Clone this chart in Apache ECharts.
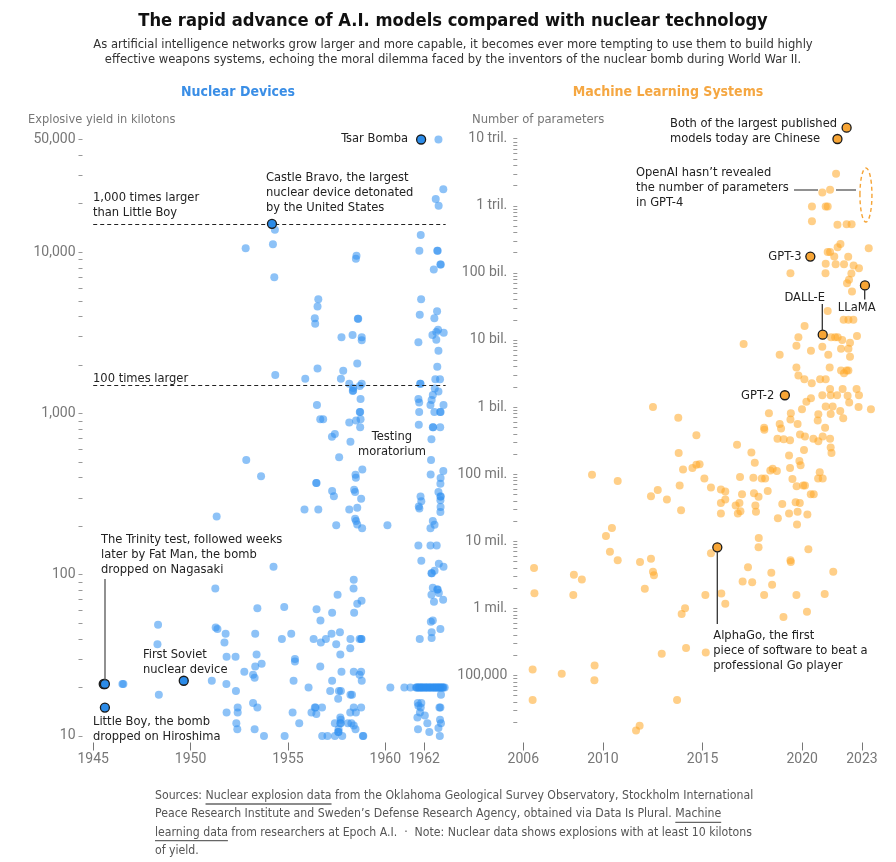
<!DOCTYPE html>
<html>
<head>
<meta charset="utf-8">
<title>A.I. models vs nuclear technology</title>
<script src="https://cdn.jsdelivr.net/npm/echarts@6/dist/echarts.min.js"></script>
<style>
  html, body { margin: 0; padding: 0; background: #fff; }
  #chart { width: 896px; height: 862px; }
</style>
</head>
<body>
<div id="chart"></div>
<script>
// ---- data: nuclear explosions [year, kilotons] ----
const nuclearTests = [
  [1962.73, 50000],
  [1962.98, 24600], [1962.59, 21400], [1962.74, 19400],
  [1954.33, 13800], [1961.82, 12800], [1952.83, 10600], [1954.23, 11200], [1961.75, 10200], [1962.67, 10200], [1962.69, 10200],
  [1958.52, 9500], [1958.49, 9100], [1962.83, 8400], [1962.85, 8400], [1962.49, 7800], [1954.30, 7000],
  [1956.56, 5100], [1956.52, 4600], [1961.84, 5100], [1962.66, 4300], [1961.77, 4100], [1962.52, 3900], [1956.38, 3900], [1956.40, 3600], [1958.59, 3870], [1958.61, 3870],
  [1962.71, 3300], [1962.62, 3200], [1963.0, 3170], [1962.42, 3070], [1957.75, 2970], [1958.32, 3070], [1958.79, 2970], [1958.79, 2840], [1962.62, 2870], [1961.70, 2760], [1962.73, 2450],
  [1958.56, 2040], [1956.52, 1900], [1957.84, 1840], [1962.67, 1950], [1954.35, 1730], [1955.89, 1640], [1957.72, 1640], [1958.15, 1530], [1958.35, 1440], [1958.33, 1380], [1958.35, 1390],
  [1958.79, 1530], [1958.69, 1480], [1961.79, 1530], [1961.81, 1530], [1962.57, 1630], [1962.81, 1630], [1962.54, 1430], [1962.73, 1370], [1962.44, 1300], [1962.38, 1210],
  [1958.73, 1230], [1961.70, 1230], [1961.74, 1170], [1956.49, 1130], [1962.32, 1130], [1962.99, 1130], [1958.69, 1020], [1958.71, 1020], [1961.74, 1020], [1962.52, 1020], [1962.82, 1020], [1962.84, 1020],
  [1956.66, 920], [1956.81, 920], [1958.15, 880], [1958.50, 905], [1958.73, 920], [1958.71, 820], [1961.72, 850], [1962.44, 820], [1962.46, 820], [1962.82, 820], [1957.41, 745], [1957.26, 718],
  [1958.21, 668], [1962.37, 692], [1957.63, 535], [1962.35, 514], [1952.86, 514], [1953.62, 408], [1958.47, 417], [1958.49, 400], [1958.82, 450], [1962.33, 419], [1962.98, 439], [1962.84, 398],
  [1962.83, 367], [1956.45, 371], [1956.47, 371], [1957.27, 330], [1957.36, 307], [1958.40, 337], [1958.45, 326], [1958.76, 296], [1961.81, 306], [1961.85, 286], [1961.72, 265], [1961.75, 257],
  [1962.73, 326], [1962.83, 306], [1962.85, 306], [1962.83, 290], [1962.84, 263], [1962.83, 245], [1955.85, 254], [1956.56, 254], [1958.15, 254], [1958.56, 260], [1958.45, 222], [1958.50, 215],
  [1958.56, 205], [1958.81, 194], [1957.48, 203], [1960.11, 203], [1951.34, 230], [1962.44, 215], [1962.53, 204], [1962.32, 194], [1961.70, 152], [1962.32, 152], [1962.64, 152], [1961.85, 122],
  [1962.37, 102], [1962.39, 102], [1962.75, 117], [1962.99, 112], [1962.53, 106], [1954.26, 112],
  [1958.38, 93], [1958.37, 82], [1951.27, 82], [1962.44, 83], [1962.67, 81], [1962.69, 81], [1962.75, 77], [1962.37, 75], [1962.50, 68], [1962.97, 70], [1957.55, 75], [1958.78, 69], [1958.56, 66],
  [1958.40, 58], [1956.47, 61], [1957.27, 58], [1956.67, 52], [1953.43, 62], [1954.81, 63], [1962.34, 51], [1962.44, 52], [1962.83, 46], [1962.38, 44], [1962.38, 40.5], [1961.77, 40],
  [1948.33, 49], [1951.29, 47], [1951.38, 46], [1951.80, 43], [1951.74, 38], [1948.30, 37], [1953.32, 43], [1954.69, 40], [1955.17, 43], [1956.32, 40], [1956.69, 38], [1956.95, 40], [1957.24, 43],
  [1957.48, 37], [1957.67, 44], [1958.21, 40], [1958.20, 35], [1958.76, 40], [1958.78, 40], [1958.68, 40], [1957.69, 32], [1951.85, 31], [1952.31, 31], [1953.39, 32], [1953.32, 27], [1953.65, 28],
  [1952.76, 25], [1953.21, 24], [1953.29, 23], [1955.36, 30], [1955.36, 29], [1956.66, 27], [1957.75, 25], [1958.38, 25], [1958.68, 24], [1958.76, 25], [1958.79, 22], [1951.09, 22], [1951.84, 21],
  [1955.29, 22], [1957.27, 22], [1952.33, 19], [1956.06, 20], [1957.17, 19], [1957.72, 19], [1957.62, 19], [1957.58, 17], [1958.21, 18], [1958.29, 18], [1960.26, 20], [1960.98, 20], [1961.29, 20],
  [1961.58, 20], [1961.65, 20], [1961.72, 20], [1961.79, 20], [1961.86, 20], [1961.93, 20], [1962.0, 20], [1962.07, 20], [1962.14, 20], [1962.21, 20], [1962.28, 20], [1962.35, 20],
  [1962.42, 20], [1962.49, 20], [1962.56, 20], [1962.63, 20], [1962.70, 20], [1962.77, 20], [1962.84, 20], [1962.91, 20], [1962.98, 20], [1963.05, 20],
  [1961.62, 20], [1961.76, 20], [1961.9, 20], [1962.1, 20], [1962.3, 20], [1962.5, 20], [1962.66, 20], [1962.8, 20], [1962.95, 20],
  [1946.5, 21], [1946.55, 21], [1948.37, 18],
  [1962.86, 18], [1961.67, 16], [1961.70, 15.4], [1961.82, 15], [1961.85, 16], [1962.78, 15], [1961.65, 13], [1962.03, 13.4], [1961.78, 14], [1961.68, 11], [1962.26, 10.6], [1962.16, 12],
  [1962.81, 12.6], [1962.86, 12], [1962.73, 11.2], [1962.80, 10], [1962.83, 15],
  [1953.21, 16], [1953.43, 15], [1952.42, 15], [1952.42, 14], [1951.85, 14], [1955.24, 14], [1956.21, 14], [1956.38, 15], [1956.42, 15], [1956.75, 15], [1956.46, 13.7], [1958.2, 14],
  [1958.38, 15], [1958.49, 14], [1958.76, 15],
  [1952.35, 12], [1952.40, 11], [1953.29, 11], [1955.58, 12], [1957.41, 12], [1957.69, 12], [1957.71, 12], [1958.08, 12], [1958.26, 12], [1957.69, 13], [1957.72, 12.6], [1958.38, 11.6],
  [1958.47, 11], [1957.60, 11], [1957.58, 10.6], [1957.60, 10.6], [1953.77, 10], [1954.83, 10], [1956.76, 10], [1957.03, 10], [1957.41, 10], [1957.79, 10], [1958.85, 10], [1958.87, 10]
];
// named devices: Tsar Bomba, Castle Bravo, Trinity, Fat Man, Little Boy, first Soviet device
const nuclearHighlights = [
  [1961.84, 50000], [1954.18, 15000], [1945.54, 21], [1945.6, 21], [1945.6, 15], [1949.65, 22]
];
const littleBoyMultiples = [15000, 1500];   // 1,000x and 100x Little Boy
const nuclearYearTicks = [1945, 1950, 1955, 1960, 1962];
const nuclearLabelValues = [10, 100, 1000, 10000, 50000];

// ---- data: machine learning systems [year, parameters] ----
const mlSystems = [
  [2021.70, 3.0e12], [2021.40, 1.73e12], [2021.01, 1.58e12], [2020.49, 9.8e11], [2021.18, 9.8e11], [2021.28, 9.8e11], [2020.49, 5.9e11], [2021.77, 5.2e11],
  [2022.23, 5.3e11], [2022.48, 5.3e11], [2021.92, 2.7e11], [2021.78, 2.4e11], [2023.34, 2.33e11], [2021.28, 2.04e11], [2021.40, 2.04e11], [2021.61, 1.76e11],
  [2022.31, 1.74e11], [2021.18, 1.37e11], [2021.68, 1.35e11], [2022.10, 1.34e11], [2022.58, 1.29e11], [2022.85, 1.17e11], [2019.41, 9.9e10], [2021.17, 9.9e10],
  [2022.47, 9.8e10], [2022.35, 7.9e10], [2022.25, 7.0e10], [2022.50, 5.3e10], [2021.28, 2.7e10], [2022.08, 2.0e10], [2022.32, 2.0e10], [2022.57, 2.0e10],
  [2020.12, 1.62e10], [2017.06, 8.7e9], [2019.81, 1.1e10], [2019.71, 8.2e9], [2020.44, 6.9e9], [2021.01, 7.9e9], [2021.45, 1.1e10], [2021.65, 1.1e10], [2021.78, 1.1e10],
  [2022.01, 1.0e10], [2022.40, 9.1e9], [2022.75, 1.15e10], [2021.95, 7.4e9], [2022.32, 7.4e9], [2021.31, 6.0e9], [2022.40, 5.6e9], [2018.87, 6.0e9],
  [2019.71, 3.9e9], [2019.81, 2.95e9], [2020.11, 2.6e9], [2020.48, 2.26e9], [2020.90, 2.6e9], [2021.18, 2.6e9], [2021.38, 3.9e9], [2021.95, 3.5e9], [2022.23, 3.5e9],
  [2022.32, 3.5e9], [2022.10, 3.2e9], [2021.40, 1.86e9], [2022.03, 1.86e9], [2022.73, 1.86e9], [2021.01, 1.5e9], [2021.43, 1.5e9], [2021.75, 1.5e9], [2022.28, 1.48e9],
  [2022.85, 1.5e9], [2020.44, 1.35e9], [2020.21, 1.2e9], [2019.99, 9.3e8], [2021.18, 1.02e9], [2021.53, 1.02e9], [2022.36, 1.17e9], [2022.83, 1.0e9], [2023.45, 9.3e8],
  [2020.81, 7.8e8], [2021.43, 7.9e8], [2021.91, 8.7e8], [2018.33, 8.1e8], [2019.43, 8.1e8], [2012.51, 1.0e9], [2013.78, 6.9e8], [2022.06, 6.8e8], [2019.41, 6.5e8],
  [2020.78, 6.3e8], [2021.15, 4.9e8], [2018.87, 5.6e8], [2019.77, 5.6e8], [2018.94, 4.8e8], [2018.09, 4.9e8], [2018.10, 4.6e8], [2014.69, 3.8e8],
  [2018.76, 3.37e8], [2019.07, 3.3e8], [2019.39, 3.2e8], [2019.89, 3.9e8], [2020.14, 3.65e8], [2020.56, 3.37e8], [2020.81, 3.1e8], [2021.03, 3.65e8], [2021.40, 3.37e8],
  [2020.09, 2.3e8], [2021.43, 2.5e8], [2021.47, 2.06e8], [2016.73, 2.74e8], [2017.45, 2.1e8], [2013.80, 2.06e8], [2019.34, 1.9e8], [2017.62, 1.48e8],
  [2019.39, 1.24e8], [2019.86, 1.57e8], [2019.92, 1.36e8], [2014.02, 1.17e8], [2014.49, 1.23e8], [2014.69, 1.38e8], [2014.85, 1.4e8], [2018.40, 1.13e8], [2018.73, 1.11e8],
  [2018.52, 1.2e8], [2020.88, 1.07e8], [2009.45, 9.8e7], [2010.74, 7.9e7], [2015.09, 8.6e7], [2016.88, 9.1e7], [2017.55, 8.8e7], [2017.97, 8.6e7], [2018.14, 8.6e7],
  [2019.51, 8.5e7], [2020.80, 8.6e7], [2021.03, 8.6e7], [2012.41, 4.7e7], [2012.75, 5.8e7], [2013.21, 4.2e7], [2013.85, 6.8e7], [2013.92, 2.9e7], [2015.42, 6.3e7],
  [2015.92, 5.9e7], [2016.14, 5.5e7], [2015.92, 3.7e7], [2016.14, 4.2e7], [2015.92, 2.6e7], [2016.66, 3.4e7], [2016.85, 3.7e7], [2016.98, 5.0e7], [2016.77, 2.6e7],
  [2016.90, 2.8e7], [2017.58, 5.2e7], [2017.65, 3.4e7], [2017.68, 2.75e7], [2017.81, 4.6e7], [2018.27, 5.6e7], [2018.78, 2.2e7], [2019.00, 3.6e7], [2019.34, 2.6e7],
  [2019.72, 6.6e7], [2020.05, 6.8e7], [2019.67, 3.8e7], [2019.88, 3.7e7], [2019.77, 2.75e7], [2019.74, 1.78e7], [2020.26, 2.5e7], [2020.43, 5.0e7], [2020.58, 5.0e7],
  [2020.14, 6.8e7], [2010.15, 1.2e7], [2010.45, 1.58e7], [2010.35, 7.0e6], [2010.74, 5.2e6], [2011.86, 4.9e6], [2012.41, 5.5e6], [2012.51, 3.5e6], [2012.56, 3.1e6],
  [2012.10, 1.95e6], [2015.42, 6.6e6], [2017.82, 1.12e7], [2017.81, 8.1e6], [2020.31, 7.6e6], [2017.28, 4.1e6], [2018.45, 3.4e6], [2018.49, 2.24e6], [2019.41, 5.2e6],
  [2019.43, 4.9e6], [2017.01, 2.5e6], [2017.49, 2.45e6], [2021.56, 3.5e6], [2015.14, 1.58e6], [2015.94, 1.66e6], [2016.14, 1.17e6], [2018.09, 1.58e6], [2019.71, 1.58e6],
  [2021.13, 1.64e6], [2020.24, 8.9e5], [2019.06, 7.4e5], [2014.12, 1.0e6], [2013.95, 8.2e5], [2006.54, 4.0e6], [2006.56, 1.68e6], [2008.54, 3.16e6], [2008.94, 2.7e6],
  [2008.51, 1.58e6], [2012.95, 2.1e5], [2014.17, 2.57e5], [2015.16, 2.2e5], [2006.47, 1.22e5], [2007.93, 1.06e5], [2009.58, 1.4e5], [2009.57, 8.5e4], [2006.47, 4.3e4],
  [2013.72, 4.3e4], [2011.84, 1.78e4], [2011.66, 1.51e4]
];
// two Chinese models, GPT-3, DALL-E, LLaMA, GPT-2, AlphaGo
const mlHighlights = [
  [2022.23, 1.46e13], [2021.77, 9.9e12], [2020.41, 1.75e11], [2021.03, 1.2e10], [2023.15, 6.5e10], [2019.13, 1.5e9], [2015.74, 8.1e6]
];
const gpt4Range = [[2023.2, 1.45e12]];
const mlYearTicks = [2006, 2010, 2015, 2020, 2023];
const mlLabelValues = [1e5, 1e6, 1e7, 1e8, 1e9, 1e10, 1e11, 1e12, 1e13];
const mlLabelText = ['100,000', '1 mil.', '10 mil.', '100 mil.', '1 bil.', '10 bil.', '100 bil.', '1 tril.', '10 tril.'];

// minor ticks 2..9 per decade
function logTicks(fromExp, toExp, top) {
  const out = [];
  for (let e = fromExp; e < toExp; e++) {
    for (let m = 1; m < 10; m++) out.push(m * Math.pow(10, e));
  }
  out.push(top);
  return out;
}
const nuclearTickValues = logTicks(1, 4, 10000).concat([20000, 30000, 40000, 50000]);
const mlTickValues = logTicks(5, 13, 1e13).concat([2e4, 3e4, 4e4, 5e4, 6e4, 7e4, 8e4, 9e4]);

const FONT = "'DejaVu Sans Condensed', 'Liberation Sans', sans-serif";
const AXIS_FONT = "Roboto, 'Liberation Sans', sans-serif";
const BLUE = '#2f8ff0';
const ORANGE = '#ffa726';

const chart = echarts.init(document.getElementById('chart'));

function txt(x, y, text, o) {
  o = o || {};
  return {
    type: 'text', x: x, y: y, silent: true, z: 10,
    style: {
      text: text,
      fill: o.color || '#222',
      font: (o.weight || 'normal') + ' ' + (o.size || 12.8) + 'px ' + FONT,
      textAlign: o.align || 'left', align: o.align || 'left',
      textVerticalAlign: 'middle', verticalAlign: 'middle',
      lineHeight: o.lh || 15
    }
  };
}
function seg(x1, y1, x2, y2, color) {
  return { type: 'line', silent: true, z: 10, shape: { x1: x1, y1: y1, x2: x2, y2: y2 }, style: { stroke: color || '#444', lineWidth: 1.3 } };
}

const axisLabelStyle = { color: '#777', fontSize: 14, fontFamily: AXIS_FONT };

// footer with underlined links
const footLines = [
  ['Sources: ', 'Nuclear explosion data', ' from the Oklahoma Geological Survey Observatory, Stockholm International'],
  ['Peace Research Institute and Sweden\u2019s Defense Research Agency, obtained via Data Is Plural. ', 'Machine', ''],
  ['', 'learning data', ' from researchers at Epoch A.I.  \u00b7  Note: Nuclear data shows explosions with at least 10 kilotons'],
  ['of yield.', '', '']
];
const FOOT_SIZE = 12.2;
const measure = document.createElement('canvas').getContext('2d');
measure.font = FOOT_SIZE + 'px ' + FONT;
const footGraphics = [];
footLines.forEach(function (parts, i) {
  const y = 796 + i * 18.3;
  const x0 = 155;
  footGraphics.push(txt(x0, y, parts.join(''), { size: FOOT_SIZE, color: '#555' }));
  if (parts[1]) {
    const a = x0 + measure.measureText(parts[0]).width;
    const b = a + measure.measureText(parts[1]).width;
    footGraphics.push(seg(a, y + 8, b, y + 8, '#666'));
  }
});

const option = {
  animation: false,
  backgroundColor: '#fff',
  grid: [
    { left: 82.5, top: 139.5, width: 365.1, height: 603 },
    { left: 517.3, top: 138.7, width: 358.6, height: 603.8 }
  ],
  xAxis: [
    {
      gridIndex: 0, type: 'value', min: 1944.45, max: 1963.2,
      axisLine: { show: false }, splitLine: { show: false },
      axisTick: { show: true, customValues: nuclearYearTicks, length: 8, lineStyle: { color: '#777' } },
      axisLabel: Object.assign({ customValues: nuclearYearTicks, margin: 10, formatter: String }, axisLabelStyle)
    },
    {
      gridIndex: 1, type: 'value', min: 2005.7, max: 2023.7,
      axisLine: { show: false }, splitLine: { show: false },
      axisTick: { show: true, customValues: mlYearTicks, length: 8, lineStyle: { color: '#777' } },
      axisLabel: Object.assign({ customValues: mlYearTicks, margin: 10, formatter: String }, axisLabelStyle)
    }
  ],
  yAxis: [
    {
      gridIndex: 0, type: 'log', logBase: 10, min: 9.11, max: 50000,
      axisLine: { show: false }, splitLine: { show: false },
      axisTick: { show: true, customValues: nuclearTickValues, length: 4, lineStyle: { color: '#999' } },
      axisLabel: Object.assign({
        customValues: nuclearLabelValues, margin: 7,
        formatter: function (v) { return Math.round(v).toLocaleString('en-US'); }
      }, axisLabelStyle)
    },
    {
      gridIndex: 1, type: 'log', logBase: 10, min: 1e4, max: 1e13,
      axisLine: { show: false }, splitLine: { show: false },
      axisTick: { show: true, customValues: mlTickValues, length: 4, lineStyle: { color: '#999' } },
      axisLabel: Object.assign({
        customValues: mlLabelValues, margin: 10,
        formatter: function (v) {
          const i = mlLabelValues.findIndex(function (t) { return Math.abs(Math.log10(t) - Math.log10(v)) < 0.01; });
          return i >= 0 ? mlLabelText[i] : '';
        }
      }, axisLabelStyle)
    }
  ],
  series: [
    {
      type: 'scatter', xAxisIndex: 0, yAxisIndex: 0, clip: false,
      data: nuclearTests, symbolSize: 8,
      itemStyle: { color: BLUE, opacity: 0.55 },
      markLine: {
        silent: true, symbol: 'none', label: { show: false },
        lineStyle: { color: '#222', type: [4, 3], width: 1 },
        data: littleBoyMultiples.map(function (v) { return [{ coord: [1945, v] }, { coord: [1963.1, v] }]; })
      }
    },
    {
      type: 'scatter', xAxisIndex: 0, yAxisIndex: 0, clip: false, z: 5,
      data: nuclearHighlights, symbolSize: 9,
      itemStyle: { color: '#2b8be8', borderColor: '#1a1a1a', borderWidth: 1.3, opacity: 1 }
    },
    {
      type: 'scatter', xAxisIndex: 1, yAxisIndex: 1, clip: false,
      data: mlSystems, symbolSize: 8,
      itemStyle: { color: ORANGE, opacity: 0.55 }
    },
    {
      type: 'scatter', xAxisIndex: 1, yAxisIndex: 1, clip: false, z: 5,
      data: mlHighlights, symbolSize: 9,
      itemStyle: { color: '#f7a535', borderColor: '#1a1a1a', borderWidth: 1.3, opacity: 1 }
    },
    {
      type: 'custom', xAxisIndex: 1, yAxisIndex: 1, clip: false, silent: true,
      data: gpt4Range,
      renderItem: function (params, api) {
        const p = api.coord([api.value(0), api.value(1)]);
        return {
          type: 'ellipse',
          shape: { cx: p[0], cy: p[1], rx: 6, ry: 27 },
          style: { fill: 'none', stroke: '#f5a436', lineWidth: 1.4, lineDash: [4, 3] }
        };
      }
    }
  ],
  graphic: [
    txt(453, 21, 'The rapid advance of A.I. models compared with nuclear technology', { size: 18.2, weight: 'bold', align: 'center', color: '#111' }),
    txt(453, 52.5, 'As artificial intelligence networks grow larger and more capable, it becomes ever more tempting to use them to build highly\neffective weapons systems, echoing the moral dilemma faced by the inventors of the nuclear bomb during World War II.', { size: 12.85, align: 'center', color: '#333', lh: 15 }),
    txt(238, 92, 'Nuclear Devices', { size: 14, weight: 'bold', align: 'center', color: '#3a8ee6' }),
    txt(668, 92, 'Machine Learning Systems', { size: 14, weight: 'bold', align: 'center', color: '#f5a742' }),
    txt(28, 120, 'Explosive yield in kilotons', { size: 12.7, color: '#777' }),
    txt(472, 120, 'Number of parameters', { size: 12.9, color: '#777' }),

    // nuclear annotations
    txt(408, 139, 'Tsar Bomba', { align: 'right' }),
    txt(266, 193, 'Castle Bravo, the largest\nnuclear device detonated\nby the United States'),
    txt(93, 205.5, '1,000 times larger\nthan Little Boy'),
    txt(93, 379, '100 times larger'),
    txt(392, 444.5, 'Testing\nmoratorium', { align: 'center' }),
    txt(101, 554.5, 'The Trinity test, followed weeks\nlater by Fat Man, the bomb\ndropped on Nagasaki'),
    seg(105, 579, 105, 680, '#555'),
    txt(143, 662.5, 'First Soviet\nnuclear device'),
    txt(93, 729, 'Little Boy, the bomb\ndropped on Hiroshima'),

    // ML annotations
    txt(670, 131, 'Both of the largest published\nmodels today are Chinese'),
    txt(636, 188, 'OpenAI hasn\u2019t revealed\nthe number of parameters\nin GPT-4'),
    seg(794, 190, 818, 190, '#555'),
    seg(836, 190, 856, 190, '#555'),
    txt(801.5, 256.7, 'GPT-3', { align: 'right' }),
    txt(825, 297.7, 'DALL-E', { align: 'right' }),
    seg(822.3, 304, 822.3, 330, '#333'),
    txt(856.7, 307.3, 'LLaMA', { align: 'center' }),
    seg(864.7, 290, 864.7, 299.5, '#333'),
    txt(774.3, 395.3, 'GPT-2', { align: 'right' }),
    seg(717.3, 551, 717.3, 624, '#333'),
    txt(713.3, 650.3, 'AlphaGo, the first\npiece of software to beat a\nprofessional Go player')
  ].concat(footGraphics)
};

chart.setOption(option);
</script>
</body>
</html>
